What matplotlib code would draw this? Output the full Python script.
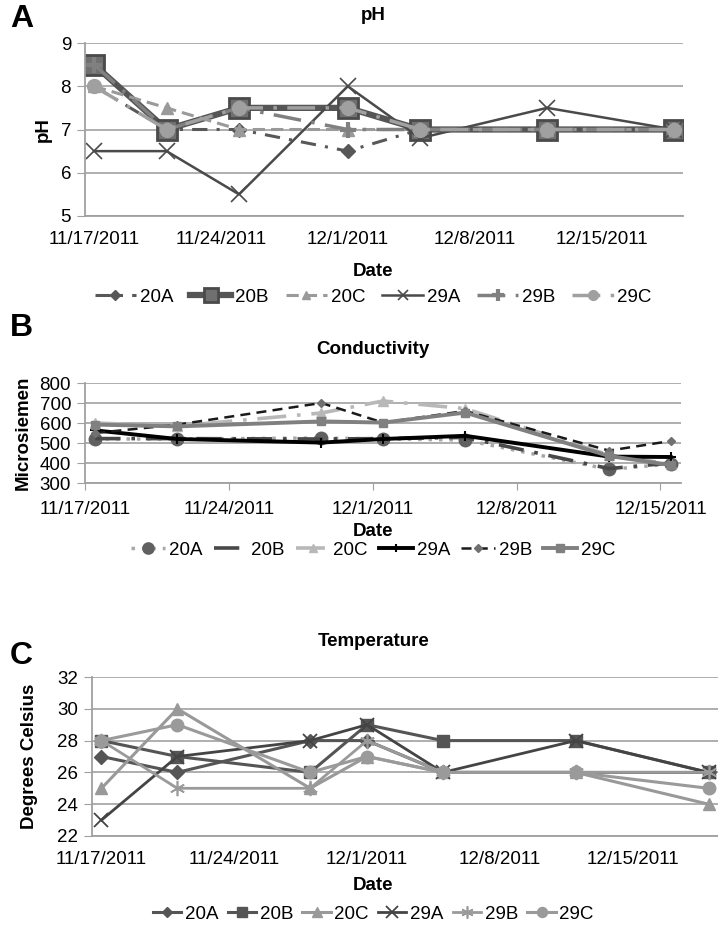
import pandas as pd
import numpy as np
import matplotlib
matplotlib.use("Agg")
import matplotlib.pyplot as plt

plt.rcParams["font.family"] = ["Liberation Sans", "DejaVu Sans"]

START = pd.Timestamp("2011-11-17")
SITES = ["20A", "20B", "20C", "29A", "29B", "29C"]
TICK_DATES = ["2011-11-17", "2011-11-24", "2011-12-01", "2011-12-08", "2011-12-15"]
TICK_LABELS = ["11/17/2011", "11/24/2011", "12/1/2011", "12/8/2011", "12/15/2011"]

# pH
ph_dates = ["2011-11-17", "2011-11-21", "2011-11-25", "2011-12-01", "2011-12-05", "2011-12-12", "2011-12-19"]
ph_20A = [8.0, 7.0, 7.0, 6.5, 7.0, 7.0, 7.0]
ph_20B = [8.5, 7.0, 7.5, 7.5, 7.0, 7.0, 7.0]
ph_20C = [8.0, 7.5, 7.0, 7.0, 7.0, 7.0, 7.0]
ph_29A = [6.5, 6.5, 5.5, 8.0, 6.8, 7.5, 7.0]
ph_29B = [8.5, 7.0, 7.5, 7.0, 7.0, 7.0, 7.0]
ph_29C = [8.0, 7.0, 7.5, 7.5, 7.0, 7.0, 7.0]

# conductivity
co_dates = ["2011-11-17", "2011-11-21", "2011-11-28", "2011-12-01", "2011-12-05", "2011-12-12", "2011-12-15"]
co_20A = [520, 520, 525, 520, 515, 368, 395]
co_20B = [522, 522, 520, 522, 528, 372, 400]
co_20C = [600, 585, 650, 710, 672, 440, 395]
co_29A = [563, 520, 502, 520, 536, 432, 430]
co_29B = [550, 592, 700, 602, 660, 462, 510]
co_29C = [592, 583, 608, 602, 652, 435, 390]

# temperature
te_dates = ["2011-11-17", "2011-11-21", "2011-11-28", "2011-12-01", "2011-12-05", "2011-12-12", "2011-12-19"]
te_20A = [27, 26, 28, 28, 26, 26, 26]
te_20B = [28, 27, 26, 29, 28, 28, 26]
te_20C = [25, 30, 25, 27, 26, 26, 24]
te_29A = [23, 27, 28, 29, 26, 28, 26]
te_29B = [28, 25, 25, 28, 26, 26, 26]
te_29C = [28, 29, 26, 27, 26, 26, 25]


def days(dates):
    return np.array([(pd.Timestamp(d) - START).days for d in dates], dtype=float)


fig = plt.figure(figsize=(7.18, 9.33), dpi=100)
W, H = 718, 933


def add_ax(left, top, right, bottom):
    return fig.add_axes([left / W, 1 - bottom / H, (right - left) / W, (bottom - top) / H])


def style_ax(ax, ylim, yticks, ylabel, title, letter, title_y, letter_y, date_y, legend_y,
             ylabelpad=6, handlelength=2.2, colspace=0.9, mscale=0.75):
    ax.set_ylim(*ylim)
    ax.set_yticks(yticks)
    ax.grid(axis="y", color="#a8a8a8", lw=1.3)
    ax.set_axisbelow(True)
    for s in ["top", "right"]:
        ax.spines[s].set_visible(False)
    ax.spines["left"].set_color("#a0a0a0")
    ax.spines["bottom"].set_color("#a0a0a0")
    ax.spines["left"].set_linewidth(1.3)
    ax.spines["bottom"].set_linewidth(1.3)
    ax.tick_params(axis="y", length=6, color="#a0a0a0", labelsize=13.5, pad=4)
    ax.tick_params(axis="x", labelsize=13.5, color="#a0a0a0")
    ax.set_ylabel(ylabel, fontsize=13.5, fontweight="bold", labelpad=ylabelpad)
    fig.text(0.52, 1 - title_y / H, title, ha="center", va="center", fontsize=13.5, fontweight="bold")
    fig.text(10 / W, 1 - letter_y / H, letter, ha="left", va="center", fontsize=23, fontweight="bold")
    fig.text(0.52, 1 - date_y / H, "Date", ha="center", va="center", fontsize=13.5, fontweight="bold")
    ax.legend(loc="center", bbox_to_anchor=(0.52, 1 - legend_y / H), bbox_transform=fig.transFigure,
              ncol=6, frameon=False, fontsize=13.5, handlelength=handlelength, handletextpad=0.2,
              columnspacing=colspace, markerscale=mscale)


# ---------- A: pH ----------
axA = add_ax(85, 43, 683, 216)
x = days(ph_dates)
axA.plot(x, ph_20A, color="#585858", ls=(0, (5, 3, 1, 3)), lw=2.2, marker="D", ms=7, label="20A")
axA.plot(x, ph_20B, color="#555555", ls="-", lw=4.5, marker="s", ms=14, mfc="#707070", mec="#4a4a4a", mew=2, label="20B")
axA.plot(x, ph_20C, color="#9a9a9a", ls=(0, (4, 2)), lw=2.2, marker="^", ms=9, label="20C")
axA.plot(x, ph_29A, color="#4a4a4a", ls="-", lw=1.8, marker="x", ms=11, mew=1.2, label="29A")
axA.plot(x, ph_29B, color="#808080", ls=(0, (8, 3, 1, 3)), lw=2.5, marker="+", ms=12, mew=3, label="29B")
axA.plot(x, ph_29C, color="#a0a0a0", ls=(0, (8, 3, 1, 3)), lw=2.5, marker="o", ms=10, label="29C")
axA.set_xlim(-0.5, 32.5)
axA.set_xticks(days(TICK_DATES))
axA.set_xticklabels(TICK_LABELS)
axA.tick_params(axis="x", length=0, pad=11)
style_ax(axA, (5, 9), [5, 6, 7, 8, 9], "pH", "pH", "A", 16, 19, 272, 297, mscale=0.7)

# ---------- B: Conductivity ----------
axB = add_ax(85, 383, 681, 483)
x = days(co_dates) + 0.5
axB.plot(x, co_20A, color="#a8a8a8", ls=(0, (1, 2)), lw=2.5, marker="o", ms=9, mfc="#606060", mec="#606060", label="20A")
axB.plot(x, co_20B, color="#484848", ls=(0, (7, 3, 1, 3)), lw=2.6, label="20B")
axB.plot(x, co_20C, color="#b8b8b8", ls=(0, (8, 3, 1, 3)), lw=2.6, marker="^", ms=7, label="20C")
axB.plot(x, co_29A, color="#000000", ls="-", lw=2.8, marker="+", ms=7, mew=1.5, label="29A")
axB.plot(x, co_29B, color="#1a1a1a", ls=(0, (4, 2.5)), lw=1.8, marker="D", ms=4, mfc="#707070", mec="#707070", label="29B")
axB.plot(x, co_29C, color="#808080", ls="-", lw=2.8, marker="s", ms=6, label="29C")
axB.set_xlim(0, 29)
axB.set_xticks(days(TICK_DATES))
axB.set_xticklabels(TICK_LABELS)
axB.tick_params(axis="x", length=5, pad=8, direction="out")
style_ax(axB, (300, 800), [300, 400, 500, 600, 700, 800], "Microsiemen", "Conductivity", "B", 350, 328, 531, 550,
         handlelength=1.8, colspace=0.6, mscale=0.9)

# ---------- C: Temperature ----------
axC = add_ax(92, 677, 718, 836)
x = days(te_dates)
axC.plot(x, te_20A, color="#555555", lw=2.2, marker="D", ms=7, label="20A")
axC.plot(x, te_20B, color="#555555", lw=2.2, marker="s", ms=9, label="20B")
axC.plot(x, te_20C, color="#999999", lw=2.2, marker="^", ms=9, label="20C")
axC.plot(x, te_29A, color="#444444", lw=2.0, marker="x", ms=10, mew=1.3, label="29A")
axC.plot(x, te_29B, color="#9a9a9a", lw=2.0, marker=(6, 2, 0), ms=11, mew=1.2, label="29B")
axC.plot(x, te_29C, color="#9a9a9a", lw=2.2, marker="o", ms=9, label="29C")
axC.set_xlim(-0.5, 32.5)
axC.set_xticks(days(TICK_DATES))
axC.set_xticklabels(TICK_LABELS)
axC.tick_params(axis="x", length=0, pad=11)
style_ax(axC, (22, 32), [22, 24, 26, 28, 30, 32], "Degrees Celsius", "Temperature", "C", 641, 656, 885, 914,
         ylabelpad=14, handlelength=1.5, colspace=0.5, mscale=0.8)

fig.savefig("out.png", dpi=100)
